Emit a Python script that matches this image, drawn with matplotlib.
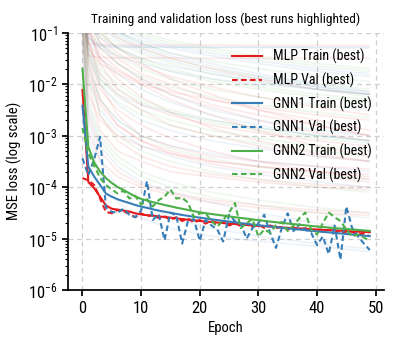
import matplotlib
matplotlib.use("Agg")
import matplotlib.pyplot as plt
from matplotlib import font_manager
import numpy as np

available = {f.name for f in font_manager.fontManager.ttflist}
main_font = 'Liberation Sans'
scale = 0.84
for cand in ['Liberation Sans Narrow', 'Roboto Condensed', 'Archivo Narrow']:
    if cand in available:
        main_font = cand
        scale = 1.0
        break
plt.rcParams['font.family'] = [main_font, 'DejaVu Sans']
plt.rcParams['mathtext.fontset'] = 'custom'
plt.rcParams['mathtext.rm'] = main_font
plt.rcParams['mathtext.it'] = main_font + ':italic'
plt.rcParams['mathtext.bf'] = main_font + ':bold'

# ---------------- data ----------------
epochs = list(range(50))

# best runs, loss values in units of 1e-5
mlp_train = [770, 12.5, 9.5, 6.5, 4.4, 3.8, 3.65, 3.5, 3.35, 3.1,
             2.95, 2.85, 2.78, 2.7, 2.62, 2.55, 2.47, 2.4, 2.33, 2.27,
             2.2, 2.15, 2.1, 2.05, 2.0, 1.96, 1.92, 1.88, 1.84, 1.8,
             1.77, 1.74, 1.71, 1.68, 1.65, 1.62, 1.6, 1.57, 1.55, 1.52,
             1.5, 1.48, 1.46, 1.44, 1.42, 1.4, 1.38, 1.36, 1.35, 1.33]
mlp_val = [15, 13.5, 11, 6, 3.3, 3.1, 3.6, 3.4, 3.0, 2.6,
           3.1, 2.7, 2.9, 2.5, 2.7, 2.3, 2.6, 2.2, 2.45, 2.05,
           2.3, 1.95, 2.25, 1.9, 2.1, 1.8, 2.0, 1.75, 1.95, 1.7,
           1.85, 1.62, 1.8, 1.6, 1.7, 1.5, 1.65, 1.48, 1.6, 1.42,
           1.55, 1.35, 1.5, 1.3, 1.42, 1.25, 1.35, 1.2, 1.25, 1.1]
gnn1_train = [380, 25, 16, 11, 7.5, 6.5, 5.8, 5.3, 4.9, 4.5,
              4.2, 3.95, 3.7, 3.5, 3.33, 3.17, 3.02, 2.88, 2.76, 2.65,
              2.55, 2.46, 2.37, 2.29, 2.21, 2.14, 2.07, 2.0, 1.94, 1.88,
              1.82, 1.77, 1.72, 1.67, 1.62, 1.58, 1.54, 1.5, 1.46, 1.42,
              1.38, 1.35, 1.32, 1.29, 1.26, 1.23, 1.2, 1.17, 1.14, 1.12]
gnn1_val = [36, 17, 35, 95, 4.0, 3.3, 3.2, 3.8, 2.9, 2.6,
            3.5, 13, 2.3, 3.0, 0.93, 3.2, 2.8, 0.8, 2.2, 2.4,
            0.9, 2.3, 1.8, 1.5, 0.88, 2.9, 2.2, 1.9, 1.0, 1.6,
            2.0, 2.9, 1.3, 0.66, 1.6, 3.1, 1.4, 1.9, 1.5, 1.3,
            0.75, 1.1, 0.5, 1.8, 0.39, 4.2, 1.6, 1.1, 0.8, 0.6]
gnn2_train = [2000, 60, 30, 20, 15, 12, 10, 8.8, 7.6, 6.6,
              5.9, 5.5, 5.1, 4.8, 4.5, 4.25, 4.0, 3.8, 3.6, 3.4,
              3.25, 3.12, 3.0, 2.9, 2.8, 2.7, 2.6, 2.52, 2.44, 2.36,
              2.28, 2.21, 2.14, 2.08, 2.02, 1.96, 1.91, 1.86, 1.81, 1.76,
              1.72, 1.68, 1.64, 1.6, 1.56, 1.53, 1.5, 1.47, 1.44, 1.41]
gnn2_val = [140, 45, 26, 15, 11, 9, 7.5, 8.5, 6.0, 6.8,
            4.6, 5.8, 4.2, 5.6, 6.5, 9.0, 6.0, 6.2, 5.0, 2.6,
            3.1, 3.1, 2.2, 1.7, 2.3, 3.2, 4.9, 1.6, 2.0, 2.4,
            1.1, 1.5, 1.3, 1.8, 2.1, 1.4, 1.8, 2.5, 3.2, 1.5,
            1.2, 2.0, 3.2, 2.6, 2.2, 1.5, 1.1, 1.2, 1.05, 0.9]

# background (all) runs: log10(loss) sampled at these epochs
bg_epochs = [0, 1, 3, 6, 10, 15, 22, 30, 40, 49]
bg_mlp = [
    [-0.3, -1.2, -1.8, -2.2, -2.5, -2.8, -3.0, -3.2, -3.4, -3.5],
    [-0.5, -1.5, -2.3, -2.8, -3.1, -3.3, -3.5, -3.6, -3.7, -3.8],
    [-0.2, -0.8, -1.2, -1.5, -1.8, -2.0, -2.3, -2.5, -2.7, -2.9],
    [-0.6, -1.45, -1.48, -1.49, -1.49, -1.49, -1.5, -1.5, -1.5, -1.5],
    [-0.4, -1.0, -1.4, -1.7, -2.0, -2.3, -2.6, -2.9, -3.2, -3.4],
    [-0.8, -2.0, -2.9, -3.3, -3.5, -3.7, -3.8, -3.9, -4.0, -4.05],
    [-0.1, -0.6, -0.9, -1.1, -1.3, -1.5, -1.7, -1.9, -2.1, -2.2],
    [-0.3, -0.7, -1.0, -1.3, -1.6, -1.9, -2.2, -2.5, -2.8, -3.0],
    [-0.9, -2.2, -2.7, -3.0, -3.2, -3.35, -3.5, -3.6, -3.7, -3.75],
    [0.0, -0.9, -1.6, -2.1, -2.4, -2.6, -2.8, -2.95, -3.1, -3.2],
    [-0.2, -1.1, -2.0, -2.6, -3.0, -3.2, -3.4, -3.5, -3.6, -3.65],
    [-0.7, -1.3, -1.6, -1.8, -2.0, -2.15, -2.3, -2.45, -2.6, -2.7],
    [-0.5, -1.6, -2.6, -3.1, -3.4, -3.6, -3.75, -3.85, -3.95, -4.0],
    [-0.3, -0.9, -1.3, -1.6, -1.9, -2.1, -2.4, -2.6, -2.8, -3.0],
    [-0.5, -1.2, -1.23, -1.24, -1.24, -1.24, -1.24, -1.25, -1.25, -1.25],
    [-0.6, -1.8, -2.4, -2.8, -3.1, -3.35, -3.55, -3.7, -3.8, -3.9],
    [-0.9, -2.6, -3.3, -3.7, -3.95, -4.1, -4.25, -4.35, -4.45, -4.5],
    [-0.4, -1.4, -2.1, -2.5, -2.8, -3.05, -3.3, -3.5, -3.7, -3.85],
    [-0.2, -0.9, -1.5, -1.9, -2.25, -2.55, -2.85, -3.1, -3.35, -3.5],
    [-1.1, -2.9, -3.5, -3.8, -4.0, -4.15, -4.3, -4.4, -4.5, -4.55],
    [-0.6, -1.2, -1.5, -1.75, -1.95, -2.2, -2.45, -2.7, -2.95, -3.1],
    [-0.1, -0.7, -1.1, -1.4, -1.65, -1.85, -2.05, -2.25, -2.45, -2.6],
]
bg_gnn1 = [
    [-0.4, -1.22, -1.27, -1.28, -1.28, -1.28, -1.28, -1.28, -1.28, -1.28],
    [-0.3, -0.8, -1.1, -1.3, -1.5, -1.65, -1.8, -1.95, -2.1, -2.2],
    [-0.1, -0.5, -0.8, -1.0, -1.2, -1.4, -1.6, -1.8, -2.0, -2.15],
    [-0.5, -1.4, -2.0, -2.4, -2.7, -2.9, -3.1, -3.25, -3.4, -3.5],
    [-0.2, -1.0, -1.5, -1.8, -2.1, -2.35, -2.6, -2.8, -3.0, -3.1],
    [-0.9, -2.5, -3.2, -3.6, -3.9, -4.1, -4.3, -4.5, -4.7, -4.85],
    [-0.6, -1.1, -1.3, -1.45, -1.6, -1.75, -1.9, -2.0, -2.1, -2.2],
    [0.0, -0.7, -1.2, -1.6, -1.9, -2.2, -2.5, -2.7, -2.9, -3.0],
    [-0.3, -1.3, -1.9, -2.2, -2.4, -2.55, -2.7, -2.85, -3.0, -3.1],
    [-1.0, -2.7, -3.5, -4.0, -4.3, -4.6, -4.8, -4.95, -5.1, -5.2],
    [-0.2, -0.6, -0.9, -1.15, -1.35, -1.55, -1.75, -1.9, -2.05, -2.15],
    [-0.4, -1.6, -2.3, -2.7, -3.0, -3.2, -3.35, -3.5, -3.6, -3.7],
    [-0.1, -0.4, -0.7, -0.9, -1.1, -1.25, -1.4, -1.55, -1.7, -1.8],
    [-0.7, -1.9, -2.5, -2.9, -3.2, -3.4, -3.6, -3.75, -3.9, -4.0],
    [-0.3, -0.6, -0.8, -1.0, -1.15, -1.3, -1.45, -1.6, -1.75, -1.85],
    [-0.5, -1.1, -1.25, -1.27, -1.28, -1.28, -1.29, -1.29, -1.3, -1.3],
    [-0.2, -0.55, -0.85, -1.05, -1.25, -1.45, -1.65, -1.85, -2.05, -2.2],
    [-1.2, -3.0, -3.8, -4.3, -4.6, -4.8, -4.95, -5.05, -5.15, -5.25],
]
bg_gnn2 = [
    [-0.1, -0.6, -1.0, -1.3, -1.5, -1.7, -1.9, -2.05, -2.2, -2.3],
    [-0.3, -0.9, -1.3, -1.6, -1.85, -2.05, -2.25, -2.4, -2.55, -2.65],
    [-0.6, -1.7, -2.3, -2.7, -3.0, -3.25, -3.45, -3.6, -3.75, -3.85],
    [0.0, -0.5, -0.85, -1.1, -1.3, -1.5, -1.7, -1.85, -2.0, -2.1],
    [-0.4, -1.2, -1.7, -2.0, -2.3, -2.5, -2.7, -2.85, -3.0, -3.1],
    [-0.8, -2.3, -3.0, -3.4, -3.7, -3.9, -4.1, -4.25, -4.4, -4.5],
    [-0.2, -0.7, -1.05, -1.3, -1.55, -1.75, -1.95, -2.1, -2.25, -2.35],
    [-0.5, -1.4, -1.9, -2.25, -2.5, -2.7, -2.9, -3.05, -3.2, -3.3],
    [-0.3, -0.8, -1.2, -1.45, -1.7, -1.9, -2.1, -2.25, -2.4, -2.5],
    [-0.7, -1.9, -2.6, -3.0, -3.3, -3.5, -3.7, -3.85, -4.0, -4.1],
    [-0.1, -0.45, -0.75, -1.0, -1.2, -1.4, -1.55, -1.7, -1.85, -1.95],
    [-0.5, -1.3, -1.8, -2.1, -2.35, -2.55, -2.75, -2.9, -3.05, -3.15],
    [-0.9, -2.4, -3.1, -3.5, -3.8, -4.0, -4.2, -4.35, -4.5, -4.6],
    [-0.2, -0.5, -0.7, -0.9, -1.05, -1.2, -1.35, -1.5, -1.65, -1.75],
    [-0.4, -0.75, -1.0, -1.2, -1.4, -1.6, -1.8, -1.95, -2.1, -2.25],
    [-0.1, -0.35, -0.6, -0.8, -1.0, -1.15, -1.3, -1.45, -1.6, -1.7],
    [-0.6, -1.5, -2.0, -2.35, -2.6, -2.8, -3.0, -3.15, -3.3, -3.4],
]

model_names = ["MLP", "GNN1", "GNN2"]
colors = {"MLP": "#e41a1c", "GNN1": "#377eb8", "GNN2": "#4daf4a"}
best = {"MLP": (mlp_train, mlp_val), "GNN1": (gnn1_train, gnn1_val),
        "GNN2": (gnn2_train, gnn2_val)}
background = {"MLP": bg_mlp, "GNN1": bg_gnn1, "GNN2": bg_gnn2}

# ---------------- plot ----------------
fig = plt.figure(figsize=(3.96, 3.47), dpi=100)
ax = fig.add_axes([0.172, 0.164, 0.798, 0.742])

for name in model_names:
    for run in background[name]:
        ax.plot(bg_epochs, 10.0 ** np.array(run), color=colors[name],
                lw=1.2, alpha=0.09, zorder=1, solid_capstyle='butt')

for name in model_names:
    tr, va = best[name]
    ax.plot(epochs, np.array(tr) * 1e-5, color=colors[name], lw=1.5,
            ls='-', label=f"{name} Train (best)", zorder=3)
    ax.plot(epochs, np.array(va) * 1e-5, color=colors[name], lw=1.5,
            ls=(0, (2.7, 1.6)), label=f"{name} Val (best)", zorder=3)

ax.set_yscale('log')
ax.set_ylim(1e-6, 1e-1)
ax.set_xlim(-2.45, 51.45)
ax.set_xticks([0, 10, 20, 30, 40, 50])
ax.grid(True, which='major', ls=(0, (4, 3)), color='#cfcfcf', lw=0.9)
ax.set_axisbelow(True)

for s in ['top', 'right']:
    ax.spines[s].set_visible(False)
for s in ['left', 'bottom']:
    ax.spines[s].set_linewidth(1.25)

ax.tick_params(axis='both', which='major', length=4, width=1.25,
               labelsize=12 * scale, direction='out')
ax.tick_params(axis='y', which='minor', length=2.5, width=0.8)

ax.set_title("Training and validation loss (best runs highlighted)",
             fontsize=9.6 * scale, pad=7)
ax.set_xlabel("Epoch", fontsize=10.5 * scale)
ax.set_ylabel("MSE loss (log scale)", fontsize=10.5 * scale)

leg = ax.legend(loc='upper right', bbox_to_anchor=(1.0, 0.985),
                frameon=False, fontsize=10 * scale,
                handlelength=2.15, handletextpad=0.8, labelspacing=0.6,
                borderaxespad=0.5)

fig.savefig("out.png", dpi=100)
